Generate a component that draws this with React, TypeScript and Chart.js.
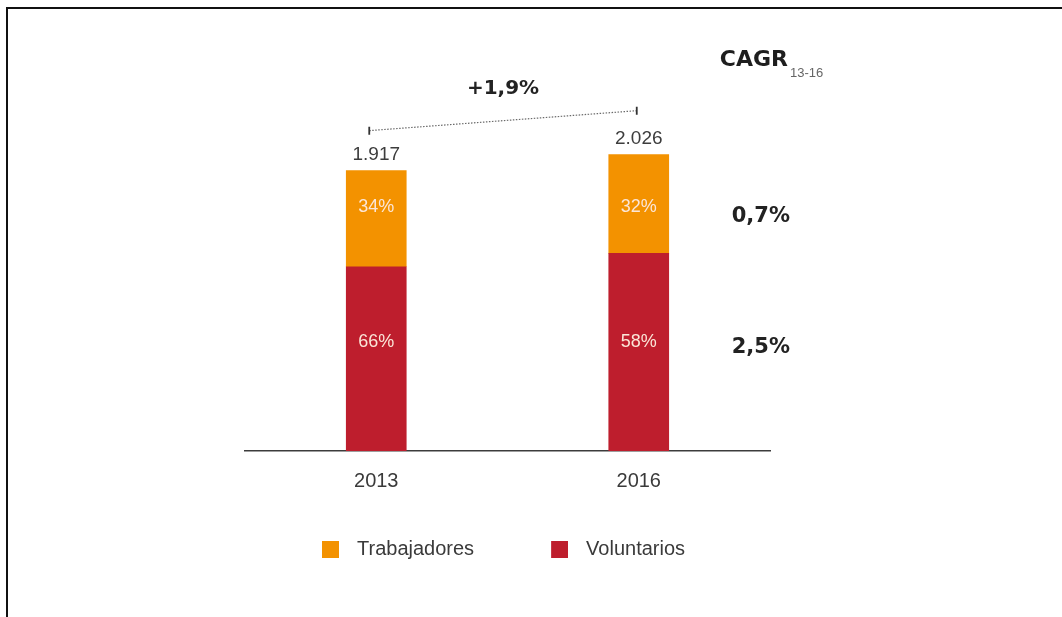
import { useEffect, useRef } from "react";
import { Chart, registerables } from "chart.js";

Chart.register(...registerables);

const years = ["2013", "2016"];
const voluntarios = [1260, 1351];
const trabajadores = [657, 675];
const trabajadoresPct = ["34%", "32%"];
const voluntariosPct = ["66%", "58%"];
const cagrTrabajadores = "0,7%";
const cagrVoluntarios = "2,5%";
const cagrTotal = "+1,9%";
const cagrTitle = "CAGR";
const cagrSub = "13-16";

const RED = "#BE1E2D";
const ORANGE = "#F39200";
const SANS = "'Liberation Sans', Arial, Helvetica, sans-serif";
const BOLD = "'DejaVu Sans', Verdana, sans-serif";

// legend swatch: transparent lead-in with a 17x17 square on the right
function makeSwatch(color: string) {
  const c = document.createElement("canvas");
  c.width = 58;
  c.height = 17;
  const g = c.getContext("2d")!;
  g.fillStyle = color;
  g.fillRect(41, 0, 17, 17);
  return c;
}

function fmt(n: number) {
  return String(n).replace(/\B(?=(\d{3})+(?!\d))/g, ".");
}

const annotations = {
  id: "annotations",
  afterDatasetsDraw(chart: any) {
    const { ctx, chartArea } = chart;
    const mv = chart.getDatasetMeta(0);
    const mt = chart.getDatasetMeta(1);
    const xs = mt.data.map((b: any) => b.x);
    const tops = mt.data.map((b: any) => b.y);
    ctx.save();

    // totals
    ctx.font = `19px ${SANS}`;
    ctx.fillStyle = "#3d3d3d";
    ctx.textAlign = "center";
    ctx.textBaseline = "alphabetic";
    years.forEach((_, i) => {
      ctx.fillText(fmt(voluntarios[i] + trabajadores[i]), xs[i], tops[i] - 11);
    });

    // percentage rows
    const avg = (arr: number[]) => arr.reduce((a, b) => a + b, 0) / arr.length;
    const orangeRow = avg(mt.data.map((b: any) => (b.y + b.base) / 2)) - 4;
    const redRow = avg(mv.data.map((b: any) => (b.y + b.base) / 2)) - 14;
    ctx.font = `18px ${SANS}`;
    ctx.fillStyle = "#fbe6d8";
    ctx.textBaseline = "middle";
    years.forEach((_, i) => {
      ctx.fillText(trabajadoresPct[i], xs[i], orangeRow);
      ctx.fillText(voluntariosPct[i], xs[i], redRow);
    });

    // dotted connector
    const x0 = xs[0] - 7, y0 = tops[0] - 40;
    const x1 = xs[1] - 2, y1 = tops[1] - 44;
    ctx.strokeStyle = "#6a6a6a";
    ctx.lineWidth = 1.2;
    ctx.setLineDash([1.5, 1.5]);
    ctx.beginPath();
    ctx.moveTo(x0, y0);
    ctx.lineTo(x1, y1);
    ctx.stroke();
    ctx.setLineDash([]);
    ctx.strokeStyle = "#333";
    ctx.lineWidth = 1.8;
    ctx.beginPath();
    ctx.moveTo(x0, y0 - 4);
    ctx.lineTo(x0, y0 + 4);
    ctx.moveTo(x1, y1 - 4);
    ctx.lineTo(x1, y1 + 4);
    ctx.stroke();

    ctx.font = `bold 20px ${BOLD}`;
    ctx.fillStyle = "#222";
    ctx.textBaseline = "alphabetic";
    ctx.fillText(cagrTotal, (x0 + x1) / 2, (y0 + y1) / 2 - 27);

    // CAGR column
    const cx = xs[1] + 81;
    ctx.textAlign = "left";
    ctx.font = `bold 22px ${BOLD}`;
    ctx.fillStyle = "#1e1e1e";
    ctx.fillText(cagrTitle, cx, chartArea.top - 34);
    const w = ctx.measureText(cagrTitle).width;
    ctx.font = `13px ${SANS}`;
    ctx.fillStyle = "#666";
    ctx.fillText(cagrSub, cx + w + 2, chartArea.top - 23);

    ctx.font = `bold 21px ${BOLD}`;
    ctx.fillStyle = "#222";
    ctx.textBaseline = "middle";
    ctx.fillText(cagrTrabajadores, xs[1] + 93, orangeRow + 9);
    ctx.fillText(cagrVoluntarios, xs[1] + 93, redRow + 6);

    ctx.restore();
  },
};

export default function App() {
  const ref = useRef<HTMLCanvasElement | null>(null);

  useEffect(() => {
    if (!ref.current) return;
    const swatches: Record<number, HTMLCanvasElement> = {
      0: makeSwatch(RED),
      1: makeSwatch(ORANGE),
    };
    const chart = new Chart(ref.current, {
      type: "bar",
      data: {
        labels: years,
        datasets: [
          { label: "Voluntarios", data: voluntarios, backgroundColor: RED, barThickness: 60, borderWidth: 0 },
          { label: "Trabajadores", data: trabajadores, backgroundColor: ORANGE, barThickness: 60, borderWidth: 0 },
        ],
      },
      options: {
        responsive: false,
        animation: false,
        layout: { padding: { left: 245, right: 292, top: 100, bottom: 48 } },
        scales: {
          x: {
            stacked: true,
            grid: { display: false, drawTicks: false },
            border: { display: true, color: "#3c3c3c", width: 1.5 },
            ticks: { color: "#3a3a3a", font: { family: SANS, size: 20 }, padding: 18 },
          },
          y: { stacked: true, display: false, min: 0, max: 2400 },
        },
        plugins: {
          legend: {
            position: "bottom",
            align: "start",
            reverse: true,
            labels: {
              usePointStyle: true,
              pointStyleWidth: 74,
              boxHeight: 17,
              padding: 28,
              color: "#3a3a3a",
              font: { family: SANS, size: 20 },
              generateLabels: (c: any) =>
                (Chart.defaults.plugins.legend.labels as any)
                  .generateLabels(c)
                  .map((l: any) => ({ ...l, pointStyle: swatches[l.datasetIndex] })),
            },
          },
          tooltip: { enabled: false },
        },
      } as any,
      plugins: [annotations],
    });
    return () => chart.destroy();
  }, []);

  return (
    <div style={{ position: "fixed", left: 0, top: 0, width: 1062, height: 617, overflow: "hidden", background: "#fff" }}>
      <canvas ref={ref} width={1062} height={617} style={{ position: "absolute", left: 0, top: 0 }} />
      <div
        style={{
          position: "absolute",
          left: 6,
          top: 7,
          width: 1056,
          height: 610,
          boxSizing: "border-box",
          borderLeft: "2px solid #111",
          borderTop: "2px solid #111",
          pointerEvents: "none",
        }}
      />
    </div>
  );
}
